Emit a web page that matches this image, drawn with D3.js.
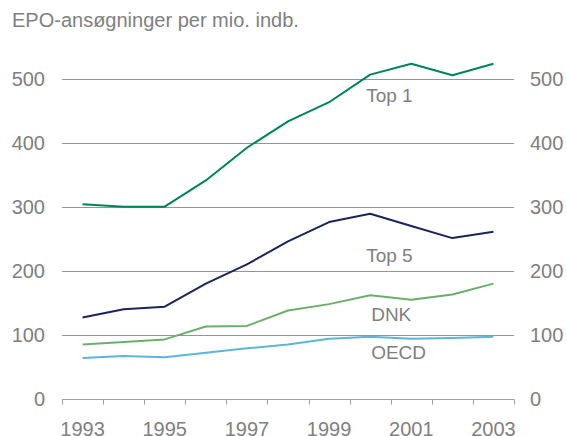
<!DOCTYPE html>
<html>
<head>
<meta charset="utf-8">
<script src="https://cdn.jsdelivr.net/npm/d3@7"></script>
<style>
  body { margin: 0; background: #fff; }
  svg { display: block; font-family: Arial, "Liberation Sans", sans-serif; }
</style>
</head>
<body>
<div id="chart"></div>
<script>
'use strict'

var years = [1993, 1994, 1995, 1996, 1997, 1998, 1999, 2000, 2001, 2002, 2003]
var yearLabels = [1993, 1995, 1997, 1999, 2001, 2003]
var yTicks = [0, 100, 200, 300, 400, 500]

var top1 = [304, 300, 300, 341, 392, 433, 463, 506, 523, 505, 523]
var top5 = [127, 140, 144, 180, 210, 246, 276, 289, 270, 251, 261]
var dnk = [85, 89, 93, 113, 114, 138, 148, 162, 155, 163, 180]
var oecd = [64, 67, 65, 72, 79, 85, 94, 97, 94, 95, 97]

var seriesNames = ['Top 1', 'Top 5', 'DNK', 'OECD']
var seriesValues = [top1, top5, dnk, oecd]
var seriesColors = ['#00835c', '#1a245e', '#6cae6c', '#5ab6de']
// where each series name sits (year, value)
var labelAt = [[2000, 464], [2000, 213], [2000, 122], [2000, 63]]

var width = 567
var height = 436
var grey = '#808080'

var svg = d3.select('#chart').append('svg')
  .attr('width', width)
  .attr('height', height)

var x = d3.scaleBand().domain(years).range([62, 514]).padding(0)
var y = d3.scaleLinear().domain([0, 500]).range([399, 78.5])

function cx (yr) { return x(yr) + x.bandwidth() / 2 }

svg.append('text')
  .attr('x', 12)
  .attr('y', 27)
  .attr('fill', grey)
  .style('font-size', '20px')
  .text('EPO-ansøgninger per mio. indb.')

// gridlines
svg.selectAll('line.grid')
  .data(yTicks.filter(function (d) { return d > 0 }))
  .enter().append('line')
  .attr('class', 'grid')
  .attr('x1', 62)
  .attr('x2', 514)
  .attr('y1', function (d) { return Math.round(y(d)) + 0.5 })
  .attr('y2', function (d) { return Math.round(y(d)) + 0.5 })
  .style('stroke', '#959595')
  .style('stroke-width', '1px')

// bottom axis with ticks at band edges
var base = Math.round(y(0)) + 0.5
svg.append('line')
  .attr('x1', 62).attr('x2', 514)
  .attr('y1', base).attr('y2', base)
  .style('stroke', '#a0a0a0')
var edges = years.map(function (d) { return x(d) }).concat([514])
svg.selectAll('line.tick')
  .data(edges)
  .enter().append('line')
  .attr('class', 'tick')
  .attr('x1', function (d) { return Math.round(d) + 0.5 })
  .attr('x2', function (d) { return Math.round(d) + 0.5 })
  .attr('y1', base)
  .attr('y2', base + 5)
  .style('stroke', '#a0a0a0')

// y labels both sides
svg.selectAll('text.yl')
  .data(yTicks)
  .enter().append('text')
  .attr('class', 'yl')
  .attr('x', 45)
  .attr('y', function (d) { return y(d) })
  .attr('dy', '0.35em')
  .attr('text-anchor', 'end')
  .attr('fill', grey)
  .style('font-size', '20px')
  .text(function (d) { return d })
svg.selectAll('text.yr')
  .data(yTicks)
  .enter().append('text')
  .attr('class', 'yr')
  .attr('x', 530)
  .attr('y', function (d) { return y(d) })
  .attr('dy', '0.35em')
  .attr('fill', grey)
  .style('font-size', '20px')
  .text(function (d) { return d })

svg.selectAll('text.xl')
  .data(yearLabels)
  .enter().append('text')
  .attr('class', 'xl')
  .attr('x', function (d) { return cx(d) })
  .attr('y', 436)
  .attr('text-anchor', 'middle')
  .attr('fill', grey)
  .style('font-size', '20px')
  .text(function (d) { return d })

var line = d3.line()
  .x(function (d, i) { return cx(years[i]) })
  .y(function (d) { return y(d) })

svg.selectAll('path.series')
  .data(seriesValues)
  .enter().append('path')
  .attr('class', 'series')
  .attr('d', line)
  .style('fill', 'none')
  .style('stroke', function (d, i) { return seriesColors[i] })
  .style('stroke-width', '2px')
  .style('stroke-linejoin', 'round')

svg.selectAll('text.name')
  .data(seriesNames)
  .enter().append('text')
  .attr('class', 'name')
  .attr('x', function (d, i) { return cx(labelAt[i][0]) - (i < 2 ? 4 : -1) })
  .attr('y', function (d, i) { return y(labelAt[i][1]) })
  .attr('fill', grey)
  .style('font-size', '19px')
  .text(function (d) { return d })
</script>
</body>
</html>
